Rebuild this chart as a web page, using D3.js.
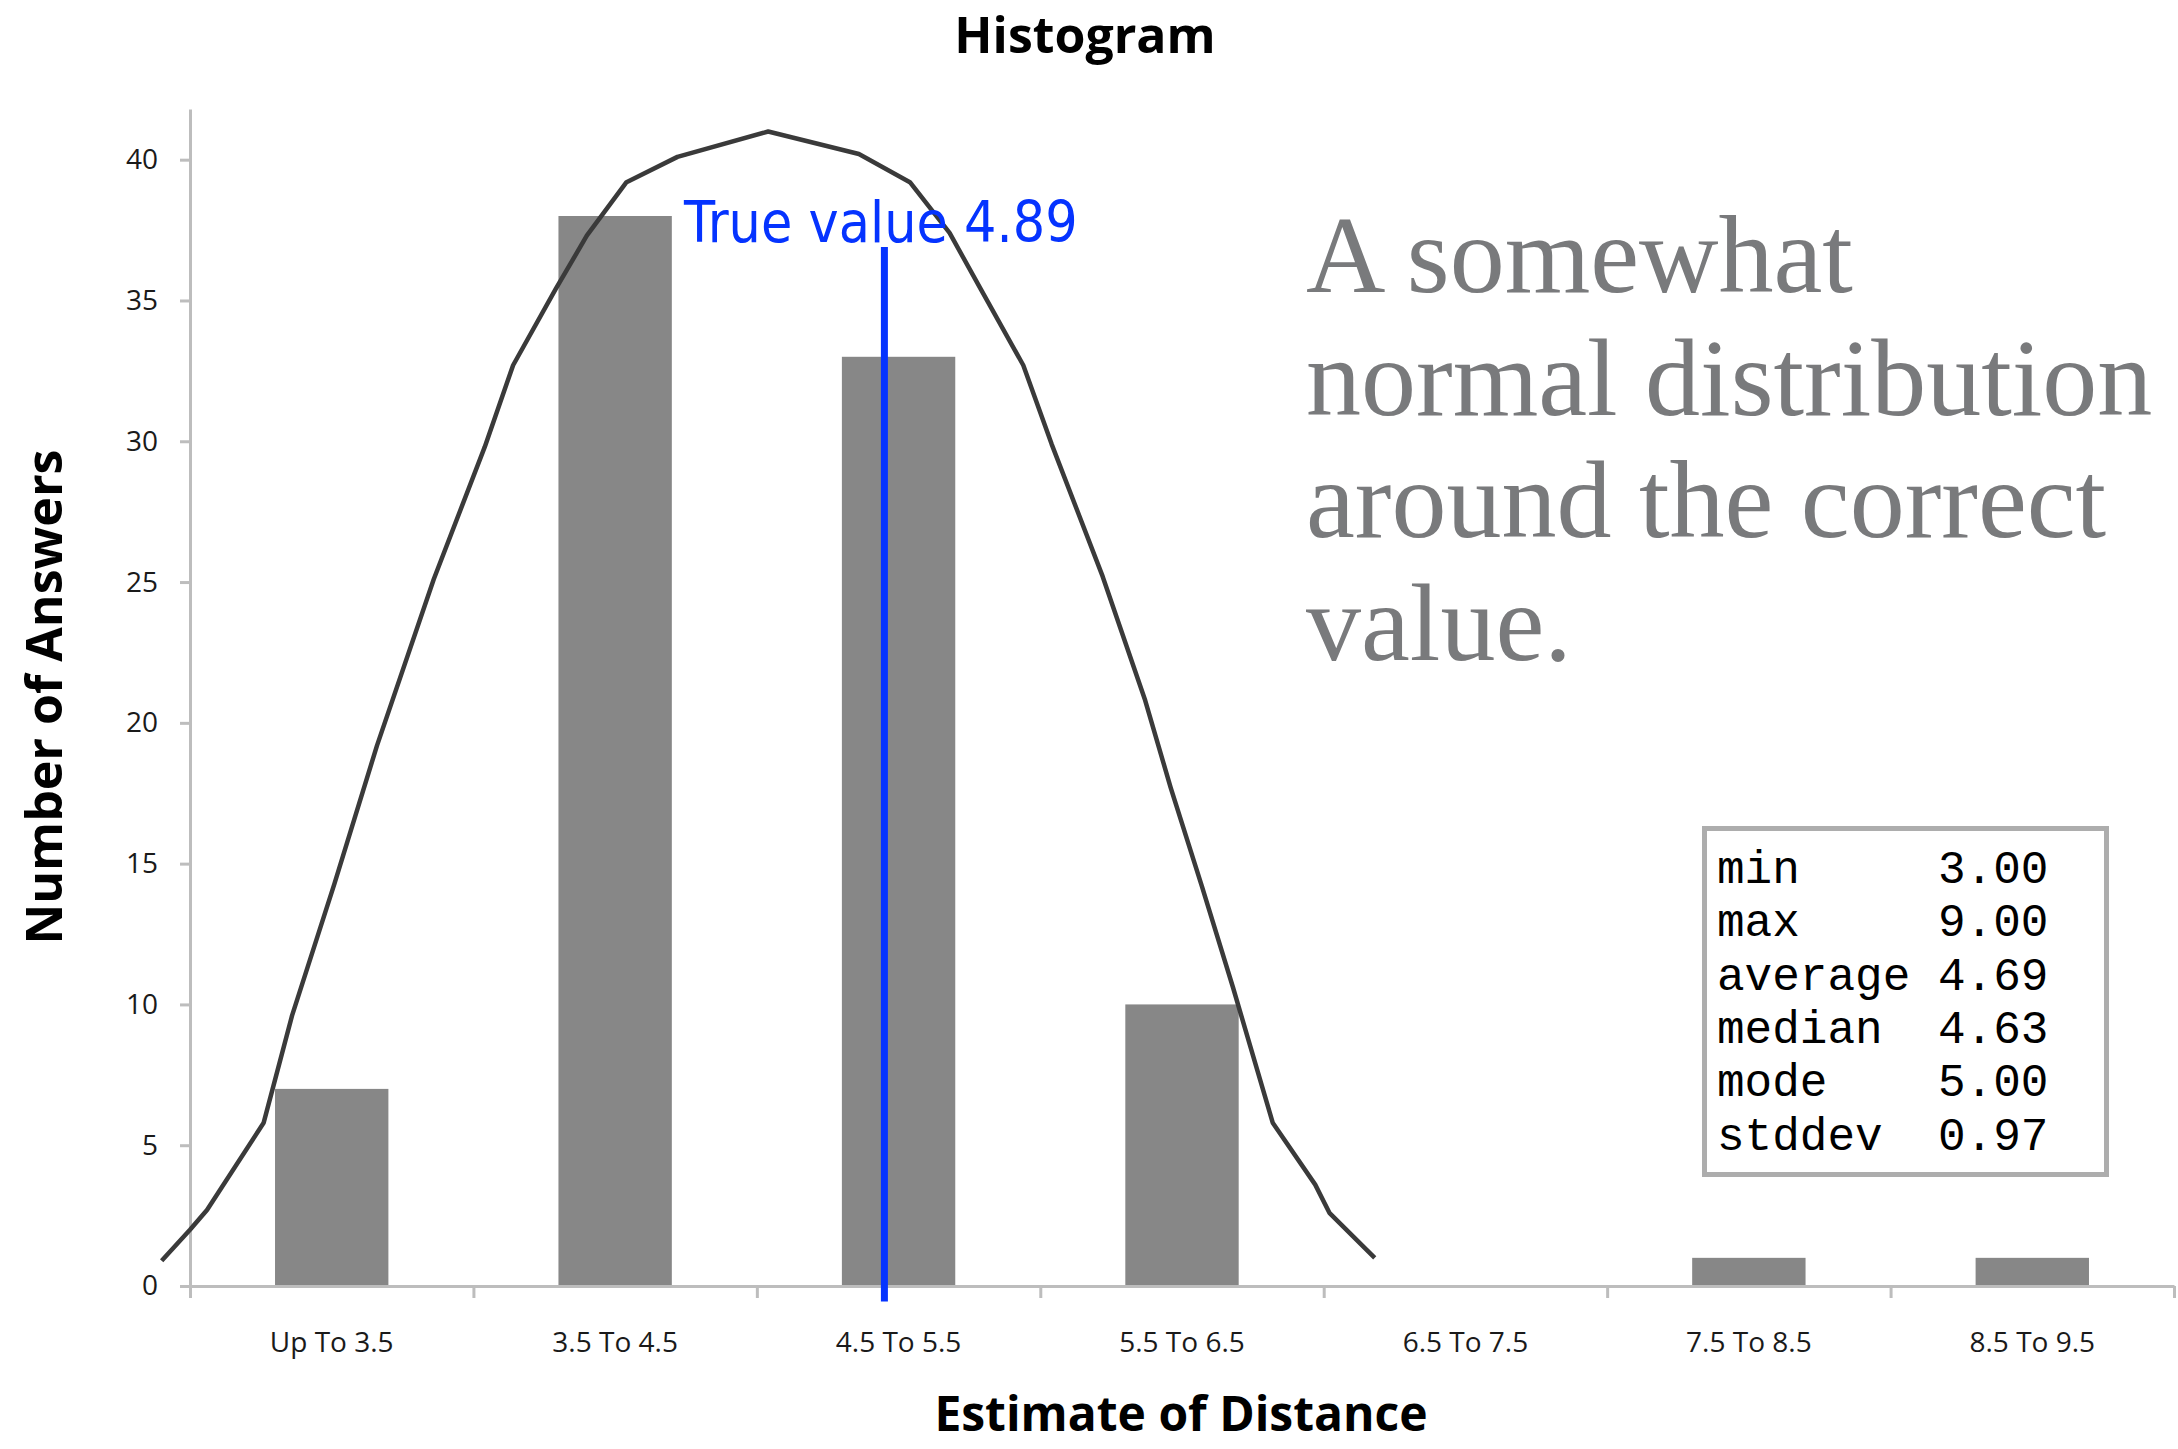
<!DOCTYPE html>
<html>
<head>
<meta charset="utf-8">
<script src="https://cdnjs.cloudflare.com/ajax/libs/d3/7.8.5/d3.min.js"></script>
<style>
  body { margin: 0; background: #fff; }
</style>
</head>
<body>
<script>
"use strict";

// histogram bins
const categories = ["Up To 3.5", "3.5 To 4.5", "4.5 To 5.5", "5.5 To 6.5", "6.5 To 7.5", "7.5 To 8.5", "8.5 To 9.5"];
const counts = [7, 38, 33, 10, 0, 1, 1];
const yTicks = [0, 5, 10, 15, 20, 25, 30, 35, 40];

// fitted curve (estimate, count)
const curveX = [2.40, 2.50, 2.56, 2.76, 2.86, 3.01, 3.16, 3.36, 3.54, 3.64, 3.79, 3.90, 4.04, 4.22, 4.54,
                4.86, 5.04, 5.18, 5.29, 5.44, 5.54, 5.72, 5.87, 5.96, 6.07, 6.18, 6.32, 6.47, 6.52, 6.68];
const curveY = [0.9, 2.0, 2.7, 5.8, 9.6, 14.3, 19.2, 25.1, 29.8, 32.7, 35.4, 37.3, 39.2, 40.1, 41.0,
                40.2, 39.2, 37.4, 35.4, 32.7, 29.9, 25.2, 20.8, 17.7, 14.2, 10.6, 5.8, 3.6, 2.6, 1.0];

// true value marker
const trueLabel = "True value 4.89";
const trueLineX = 4.95;
const trueLineY = [-0.55, 36.9];

// summary box
const statNames = ["min", "max", "average", "median", "mode", "stddev"];
const statValues = ["3.00", "9.00", "4.69", "4.63", "5.00", "0.97"];

const noteLines = ["A somewhat", "normal distribution", "around the correct", "value."];

(function(){

  window.addEventListener("load", init);

  let svgContainer = "";
  const measurements = {
      width: 2178,
      height: 1449,
      left: 190,
      right: 2174,
      bottom: 1286,
      top: 109
  };

  function init() {
    svgContainer = d3.select("body").append("svg")
        .attr("width", measurements.width)
        .attr("height", measurements.height);

    // band scale for the bars, linear one for curve + marker
    let scaleBand = d3.scaleBand()
        .domain(categories)
        .range([measurements.left, measurements.right])
        .paddingInner(0.6)
        .paddingOuter(0.3);
    let scaleX = d3.scaleLinear()
        .domain([2.5, 9.5])
        .range([measurements.left, measurements.right]);
    let scaleY = d3.scaleLinear()
        .domain([0, 41.8])
        .range([measurements.bottom, measurements.top]);

    plotBars(scaleBand, scaleY);
    drawAxes(scaleBand, scaleX, scaleY);
    plotCurve(scaleX, scaleY);
    drawMarker(scaleX, scaleY);
    drawTexts();
  }

  function plotBars(scaleBand, scaleY) {
    svgContainer.selectAll(".bar")
        .data(counts)
        .enter()
        .append("rect")
          .attr("class", "bar")
          .attr("x", (d, i) => scaleBand(categories[i]))
          .attr("y", d => scaleY(d))
          .attr("width", scaleBand.bandwidth())
          .attr("height", d => scaleY(0) - scaleY(d))
          .attr("fill", "#878787");
  }

  function drawAxes(scaleBand, scaleX, scaleY) {
    let yAxis = d3.axisLeft(scaleY)
        .tickValues(yTicks)
        .tickSize(10)
        .tickSizeOuter(0)
        .tickPadding(22);

    let gy = svgContainer.append("g")
        .attr("transform", "translate(" + measurements.left + ",0)")
        .call(yAxis);

    // tick marks at bin edges
    let edgeAxis = d3.axisBottom(scaleX)
        .tickValues(d3.range(2.5, 10, 1))
        .tickSize(12)
        .tickSizeOuter(0)
        .tickFormat("");

    let gEdge = svgContainer.append("g")
        .attr("transform", "translate(0," + measurements.bottom + ")")
        .call(edgeAxis);

    let xAxis = d3.axisBottom(scaleBand)
        .tickSize(0)
        .tickPadding(46);

    let gx = svgContainer.append("g")
        .attr("transform", "translate(0," + measurements.bottom + ")")
        .call(xAxis);
    gx.select(".domain").remove();

    [gy, gEdge].forEach(g => {
      g.selectAll("path, line")
          .attr("stroke", "#bdbdbd")
          .attr("stroke-width", 3);
    });

    [gy, gx].forEach(g => {
      g.selectAll("text")
          .attr("fill", "#1a1a1a")
          .style("font-family", "'Open Sans', sans-serif")
          .style("font-size", "28px");
    });
  }

  function plotCurve(scaleX, scaleY) {
    let pts = curveX.map((x, i) => [x, curveY[i]]);
    let line = d3.line()
        .x(d => scaleX(d[0]))
        .y(d => scaleY(d[1]));

    svgContainer.append("path")
        .datum(pts)
        .attr("d", line)
        .attr("fill", "none")
        .attr("stroke", "#3a3a3a")
        .attr("stroke-width", 4.5)
        .attr("stroke-linejoin", "round");
  }

  function drawMarker(scaleX, scaleY) {
    svgContainer.append("line")
        .attr("x1", scaleX(trueLineX))
        .attr("x2", scaleX(trueLineX))
        .attr("y1", scaleY(trueLineY[0]))
        .attr("y2", scaleY(trueLineY[1]))
        .attr("stroke", "#0533ff")
        .attr("stroke-width", 7);

    svgContainer.append("text")
        .attr("transform", "translate(684,242) scale(1,1.1)")
        .attr("fill", "#0533ff")
        .style("font-family", "'DejaVu Sans', sans-serif")
        .style("font-size", "51px")
        .text(trueLabel);
  }

  function drawTexts() {
    svgContainer.append("text")
        .attr("x", 1085)
        .attr("y", 53)
        .attr("text-anchor", "middle")
        .style("font-family", "'Open Sans', sans-serif")
        .style("font-weight", "bold")
        .style("font-size", "50px")
        .text("Histogram");

    svgContainer.append("text")
        .attr("x", 1181)
        .attr("y", 1431)
        .attr("text-anchor", "middle")
        .style("font-family", "'Open Sans', sans-serif")
        .style("font-weight", "bold")
        .style("font-size", "48px")
        .text("Estimate of Distance");

    svgContainer.append("text")
        .attr("transform", "translate(62,697) rotate(-90)")
        .attr("text-anchor", "middle")
        .style("font-family", "'Open Sans', sans-serif")
        .style("font-weight", "bold")
        .style("font-size", "50px")
        .text("Number of Answers");

    // grey serif note
    svgContainer.selectAll(".note")
        .data(noteLines)
        .enter()
        .append("text")
          .attr("class", "note")
          .attr("x", 1306)
          .attr("y", (d, i) => 292 + i * 122.7)
          .attr("fill", "#797a7c")
          .style("font-family", "'Liberation Serif', serif")
          .style("font-size", "110px")
          .text(d => d);

    // stats box
    svgContainer.append("rect")
        .attr("x", 1704.5)
        .attr("y", 828.5)
        .attr("width", 402)
        .attr("height", 346)
        .attr("fill", "#fff")
        .attr("stroke", "#adadad")
        .attr("stroke-width", 5);

    let rows = svgContainer.selectAll(".stat")
        .data(statNames)
        .enter()
        .append("g")
          .attr("class", "stat")
          .attr("transform", (d, i) => "translate(0," + (883 + i * 53.3) + ")");
    rows.append("text")
        .attr("x", 1717)
        .style("font-family", "'Liberation Mono', monospace")
        .style("font-size", "46px")
        .text(d => d);
    rows.append("text")
        .attr("x", 1938)
        .style("font-family", "'Liberation Mono', monospace")
        .style("font-size", "46px")
        .text((d, i) => statValues[i]);
  }

})();
</script>
</body>
</html>
